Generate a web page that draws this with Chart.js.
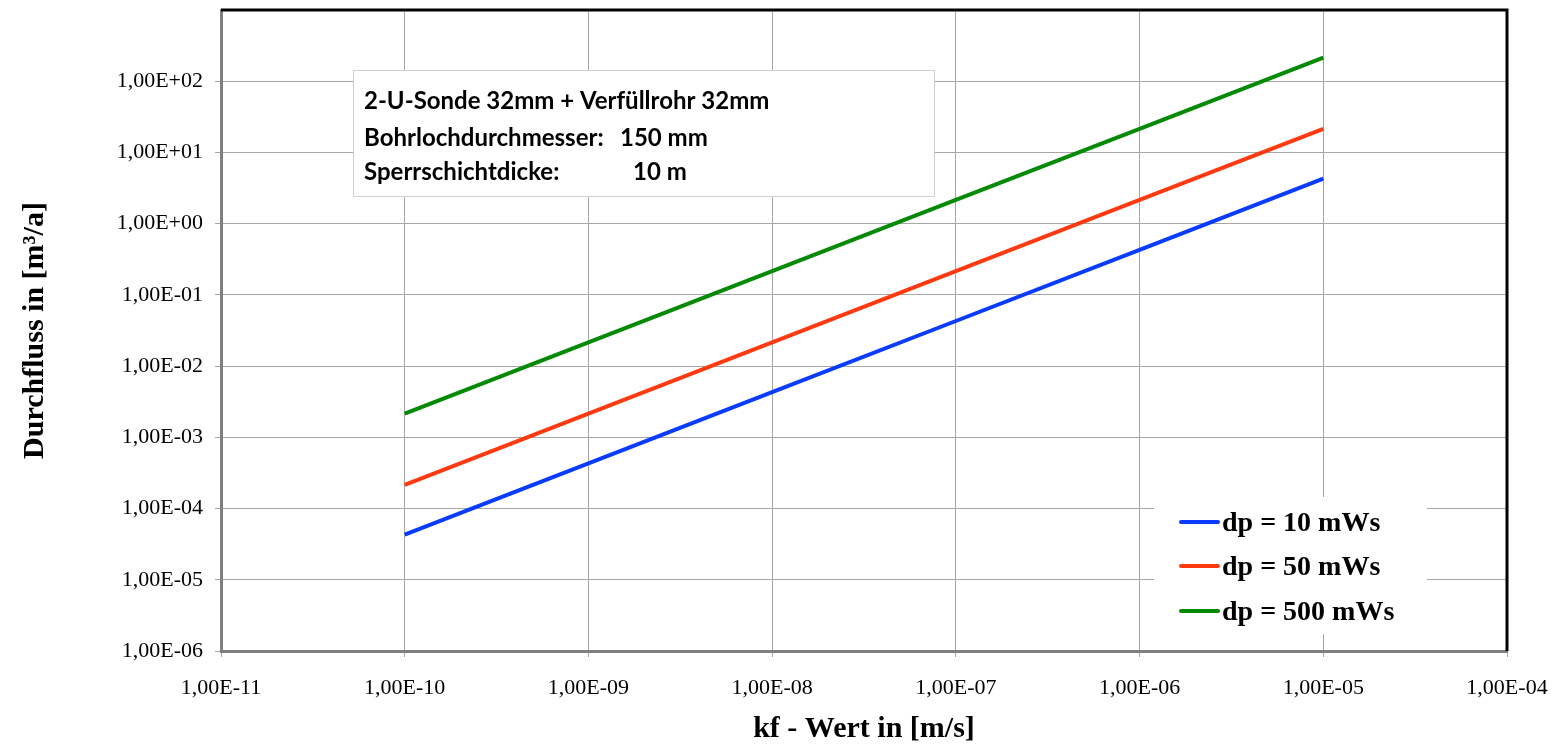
<!DOCTYPE html>
<html>
<head>
<meta charset="utf-8">
<script src="https://cdn.jsdelivr.net/npm/chart.js@4"></script>
<style>
    html, body { margin: 0; padding: 0; background: #ffffff; }
    #wrap { width: 1558px; height: 747px; position: relative; }
</style>
</head>
<body>
<div id="wrap"><canvas id="chartFlow"></canvas></div>
<script>
// kf-Werte (x) und Durchfluss je Druckdifferenz (y)
const kfValues = [1e-10, 1e-9, 1e-8, 1e-7, 1e-6, 1e-5];
const flowDp10 = [4.3e-5, 4.3e-4, 4.3e-3, 4.3e-2, 4.3e-1, 4.3];
const flowDp50 = [2.15e-4, 2.15e-3, 2.15e-2, 2.15e-1, 2.15, 21.5];
const flowDp500 = [2.15e-3, 2.15e-2, 2.15e-1, 2.15, 21.5, 215];
const seriesLabels = ["dp = 10 mWs", "dp = 50 mWs", "dp = 500 mWs"];
const seriesColors = ["#0a3cff", "#ff3a10", "#058a05"];

const xTicks = [1e-11, 1e-10, 1e-9, 1e-8, 1e-7, 1e-6, 1e-5, 1e-4];
const yTicks = [1e-6, 1e-5, 1e-4, 1e-3, 1e-2, 1e-1, 1e0, 1e1, 1e2];

const infoLines = [
    ["2-U-Sonde 32mm + Verfüllrohr 32mm", ""],
    ["Bohrlochdurchmesser:", "150 mm"],
    ["Sperrschichtdicke:", "10 m"],
];

const serif = "'Liberation Serif', 'DejaVu Serif', serif";

function formatSci(value) {
    const exp = Math.round(Math.log10(value));
    const mant = (value / Math.pow(10, exp)).toFixed(2).replace(".", ",");
    const sign = exp < 0 ? "-" : "+";
    return mant + "E" + sign + String(Math.abs(exp)).padStart(2, "0");
}

function toPoints(ys) {
    return kfValues.map((x, i) => ({x: x, y: ys[i]}));
}

const frameAndBoxes = {
    id: "frameAndBoxes",
    afterDraw(chart) {
        const ctx = chart.ctx;
        const area = chart.chartArea;
        ctx.save();

        // schwarzer Rahmen oben und rechts
        ctx.strokeStyle = "#000000";
        ctx.lineWidth = 3;
        ctx.beginPath();
        ctx.moveTo(area.left, area.top);
        ctx.lineTo(area.right, area.top);
        ctx.lineTo(area.right, area.bottom);
        ctx.stroke();

        // Infobox
        const bx = 353, by = 70, bw = 581, bh = 126;
        ctx.fillStyle = "#ffffff";
        ctx.fillRect(bx, by, bw, bh);
        ctx.strokeStyle = "#d0d0d0";
        ctx.lineWidth = 1;
        ctx.strokeRect(bx + 0.5, by + 0.5, bw, bh);

        ctx.fillStyle = "#000000";
        ctx.font = "bold 24px Lato, 'Open Sans', sans-serif";
        ctx.textBaseline = "middle";
        const lineY = [101, 138, 172];
        const valueX = [0, 620, 633];
        infoLines.forEach((line, i) => {
            ctx.fillText(line[0], 364, lineY[i]);
            if (line[1]) {
                ctx.fillText(line[1], valueX[i], lineY[i]);
            }
        });

        // Legende
        ctx.fillStyle = "#ffffff";
        ctx.fillRect(1154, 497, 273, 137);
        const legendY = [522, 566, 611];
        ctx.font = "bold 28px " + serif;
        ctx.lineCap = "round";
        chart.data.datasets.forEach((ds, i) => {
            ctx.strokeStyle = ds.borderColor;
            ctx.lineWidth = 4;
            ctx.beginPath();
            ctx.moveTo(1181, legendY[i]);
            ctx.lineTo(1218, legendY[i]);
            ctx.stroke();
            ctx.fillStyle = "#000000";
            ctx.fillText(ds.label, 1222, legendY[i] + 2);
        });

        ctx.restore();
    }
};

new Chart(document.getElementById("chartFlow"), {
    type: "line",
    data: {
        datasets: [
            {label: seriesLabels[0], data: toPoints(flowDp10), borderColor: seriesColors[0]},
            {label: seriesLabels[1], data: toPoints(flowDp50), borderColor: seriesColors[1]},
            {label: seriesLabels[2], data: toPoints(flowDp500), borderColor: seriesColors[2]},
        ].map(ds => Object.assign(ds, {
            borderWidth: 4,
            pointRadius: 0,
            tension: 0,
            fill: false,
        })),
    },
    options: {
        responsive: true,
        maintainAspectRatio: false,
        animation: false,
        layout: {padding: {top: 10, right: 51, left: 0, bottom: 0}},
        plugins: {
            legend: {display: false},
            tooltip: {enabled: false},
        },
        scales: {
            x: {
                type: "logarithmic",
                min: 1e-11,
                max: 1e-4,
                afterBuildTicks: scale => {
                    scale.ticks = xTicks.map(v => ({value: v}));
                },
                afterFit: scale => {
                    scale.height = 96;
                    scale.paddingLeft = 0;
                    scale.paddingRight = 0;
                },
                grid: {color: "#a6a6a6", lineWidth: 1, tickLength: 6, tickColor: "#a6a6a6"},
                border: {color: "#7f7f7f", width: 3},
                ticks: {
                    color: "#000000",
                    font: {family: serif, size: 22},
                    padding: 18,
                    maxRotation: 0,
                    autoSkip: false,
                    callback: value => formatSci(value),
                },
                title: {
                    display: true,
                    text: "kf - Wert in [m/s]",
                    color: "#000000",
                    font: {family: serif, size: 30, weight: "bold"},
                    padding: {top: 0, bottom: 0},
                },
            },
            y: {
                type: "logarithmic",
                min: 1e-6,
                max: 1e3,
                afterBuildTicks: scale => {
                    scale.ticks = yTicks.map(v => ({value: v}));
                },
                afterFit: scale => {
                    scale.width = 221;
                    scale.paddingTop = 0;
                    scale.paddingBottom = 0;
                },
                grid: {color: "#a6a6a6", lineWidth: 1, tickLength: 6, tickColor: "#a6a6a6"},
                border: {color: "#7f7f7f", width: 3},
                ticks: {
                    color: "#000000",
                    font: {family: serif, size: 22},
                    padding: 12,
                    autoSkip: false,
                    callback: value => formatSci(value),
                },
                title: {
                    display: true,
                    text: "Durchfluss in [m³/a]",
                    color: "#000000",
                    font: {family: serif, size: 30, weight: "bold"},
                    padding: {top: 17, bottom: 0},
                },
            },
        },
    },
    plugins: [frameAndBoxes],
});
</script>
</body>
</html>
